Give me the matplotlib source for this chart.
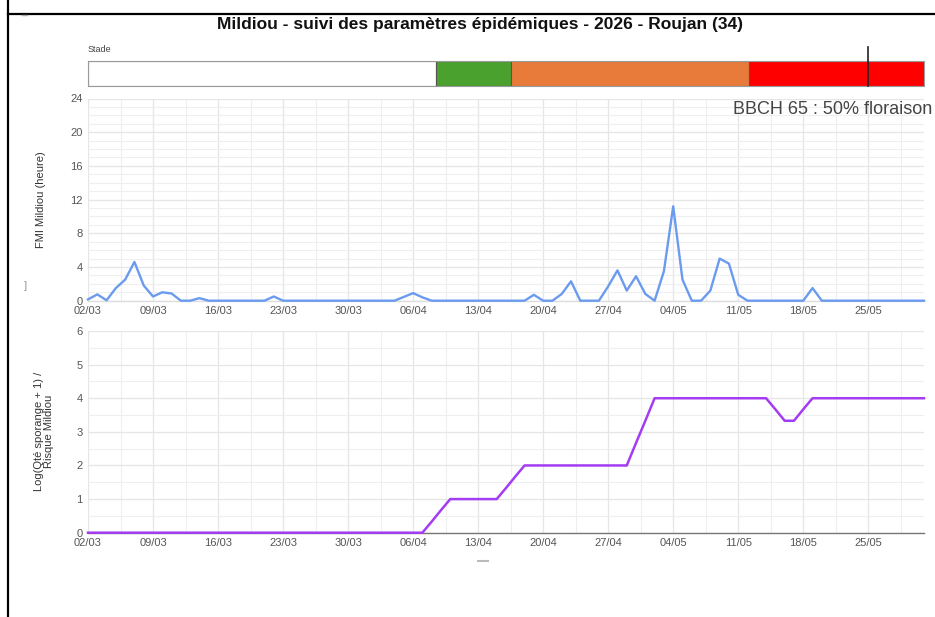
import matplotlib
matplotlib.use("Agg")
import matplotlib.pyplot as plt
from matplotlib.lines import Line2D
import pandas as pd
import numpy as np

plt.rcParams['font.family'] = ['Liberation Sans', 'DejaVu Sans']

# ---------------- data ----------------
start_date = "2026-03-02"
end_date = "2026-05-31"

fmi_values = [0.15, 0.75, 0.05, 1.5, 2.5, 4.6, 1.8, 0.5, 1.0, 0.85, 0, 0, 0.3,
              0, 0, 0, 0, 0, 0, 0,
              0.5,
              0, 0, 0, 0, 0, 0, 0, 0, 0, 0, 0, 0, 0,
              0.45, 0.9, 0.4,
              0, 0, 0, 0, 0, 0, 0, 0, 0, 0, 0,
              0.7, 0, 0, 0.8, 2.3, 0, 0, 0, 1.7, 3.6, 1.2, 2.9, 0.8, 0, 3.5, 11.2,
              2.5, 0, 0, 1.2, 5.0, 4.4, 0.7,
              0, 0, 0, 0, 0, 0, 0,
              1.5,
              0, 0, 0, 0, 0, 0, 0, 0, 0, 0, 0, 0]

risque_values = ([0] * 37 + [0.33, 0.67] + [1] * 6 + [1.33, 1.67] + [2] * 12 +
                 [2.67, 3.33] + [4] * 13 + [3.67, 3.33, 3.33, 3.67] + [4] * 13)

tick_labels = ["02/03", "09/03", "16/03", "23/03", "30/03", "06/04", "13/04",
               "20/04", "27/04", "04/05", "11/05", "18/05", "25/05"]

stage_starts = ["2026-03-02 00:00", "2026-04-08 12:00", "2026-04-16 12:00", "2026-05-12 05:00"]
stage_ends = ["2026-04-08 12:00", "2026-04-16 12:00", "2026-05-12 05:00", "2026-05-31 00:00"]
stage_colors = ["#ffffff", "#4aa12e", "#e97b3a", "#ff0000"]
current_day = "2026-05-25"

title = "Mildiou - suivi des paramètres épidémiques - 2026 - Roujan (34)"
stage_text = "BBCH 65 : 50% floraison"

dates = pd.date_range(start_date, end_date, freq="D")
tick_dates = pd.to_datetime([f"2026-{l[3:5]}-{l[0:2]}" for l in tick_labels])
minor_dates = tick_dates + pd.Timedelta(hours=84)

W, H = 935, 617
fig = plt.figure(figsize=(W / 100, H / 100), dpi=100)
fig.patch.set_facecolor("white")


def box(x0, y0, x1, y1):
    return [x0 / W, 1 - y1 / H, (x1 - x0) / W, (y1 - y0) / H]


xmin = pd.Timestamp(start_date)
xmax = pd.Timestamp(end_date)

# ---------------- stage bar ----------------
axs = fig.add_axes(box(88, 61, 924, 86))
for s, e, c in zip(stage_starts, stage_ends, stage_colors):
    s = pd.Timestamp(s); e = pd.Timestamp(e)
    axs.barh(0.5, e - s, left=s, height=1.0, color=c, edgecolor="#555555",
             linewidth=0.8)
axs.set_xlim(xmin, xmax)
axs.set_ylim(0, 1)
axs.set_xticks([]); axs.set_yticks([])
for sp in axs.spines.values():
    sp.set_color("#9a9a9a"); sp.set_linewidth(0.8)
cd = pd.Timestamp(current_day)
axs.plot([cd, cd], [0, 1.58], color="#222222", lw=1.2, clip_on=False, zorder=5)
fig.text(88 / W, 1 - 50 / H, "Stade", fontsize=6.5, color="#444444",
         ha="left", va="center")


def style_axes(ax, ymax, ymajor, yminor):
    ax.set_xlim(xmin, xmax)
    ax.set_ylim(0, ymax)
    ax.set_xticks(tick_dates)
    ax.set_xticklabels(tick_labels)
    ax.set_xticks(minor_dates, minor=True)
    ax.set_yticks(np.arange(0, ymax + 0.001, ymajor))
    ax.set_yticks(np.arange(0, ymax + 0.001, yminor), minor=True)
    ax.grid(True, which="major", color="#e6e6e6", lw=0.9)
    ax.grid(True, which="minor", color="#efefef", lw=0.8)
    ax.set_axisbelow(True)
    ax.tick_params(which="both", length=0, labelsize=8, labelcolor="#555555",
                   pad=4)
    for sp in ["top", "right", "left"]:
        ax.spines[sp].set_visible(False)
    ax.spines["bottom"].set_color("#777777")
    ax.spines["bottom"].set_linewidth(1.0)


# ---------------- FMI plot ----------------
ax1 = fig.add_axes(box(88, 98.5, 924, 300.7))
ax1.plot(dates, fmi_values, color="#6b9bef", lw=1.7, zorder=3, clip_on=False)
style_axes(ax1, 24, 4, 1)
ax1.spines["bottom"].set_color("#dddddd")
ax1.set_ylabel("FMI Mildiou (heure)", fontsize=8, color="#333333", labelpad=17)
ax1.text(932 / W, 1 - 110 / H, stage_text, transform=fig.transFigure,
         fontsize=13, color="#444444", ha="right", va="center")

# ---------------- Risque plot ----------------
ax2 = fig.add_axes(box(88, 331, 924, 532.7))
ax2.plot(dates, risque_values, color="#a33cf2", lw=1.8, zorder=3, clip_on=False)
style_axes(ax2, 6, 1, 0.5)
ax2.set_ylabel("Log(Qté sporange + 1) /\nRisque Mildiou", fontsize=8,
               color="#333333", labelpad=16, linespacing=1.0)

# ---------------- title & frame ----------------
fig.text(480 / W, 1 - 28.5 / H, title, fontsize=12.5, fontweight="bold",
         color="#111111", ha="center", va="baseline")
fig.add_artist(Line2D([8 / W, 8 / W], [0, 1], color="black", lw=1.6))
fig.add_artist(Line2D([8 / W, 1], [1 - 13.5 / H, 1 - 13.5 / H], color="black", lw=1.6))
fig.add_artist(Line2D([22 / W, 27 / W], [1 - 15 / H, 1 - 15 / H], color="#aaaaaa", lw=1))
fig.text(25 / W, 1 - 286 / H, "]", fontsize=8, color="#999999", ha="center", va="center")
fig.add_artist(Line2D([478 / W, 488 / W], [1 - 561 / H, 1 - 561 / H], color="#bbbbbb", lw=1.5))

fig.savefig("out.png", dpi=100, facecolor="white")
